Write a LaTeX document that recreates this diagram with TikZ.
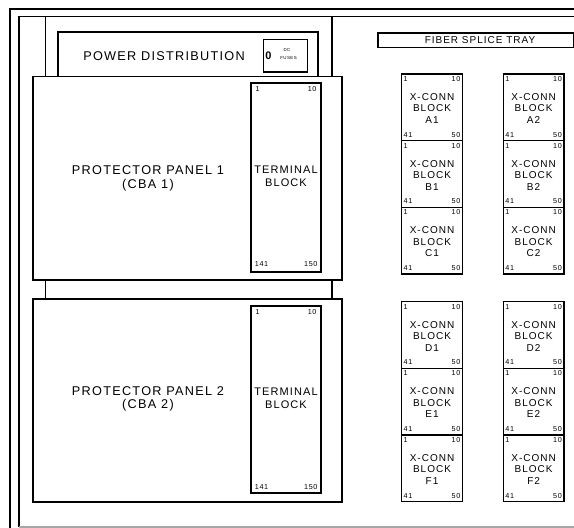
\documentclass[tikz,border=0pt]{standalone}
\usepackage{fontspec}
\setmainfont{Liberation Sans}[LetterSpace=10]
\begin{document}
\begin{tikzpicture}[x=1pt,y=-1pt,
  frame/.style={line width=1.2pt, draw=black},
  box/.style={draw=black, line width=1.2pt, anchor=north west, inner sep=0pt, outer sep=0pt, fill=white},
  blk/.style={box, line width=1.5pt},
  txt/.style={inner sep=0pt, outer sep=0pt, text=black},
  big/.style={txt, align=center, font=\fontsize{12.7}{13.5}\selectfont},
  mid/.style={txt, align=center, font=\fontsize{11}{12.7}\selectfont},
  xtxt/.style={txt, align=center, font=\fontsize{10}{11.5}\selectfont},
  num/.style={txt, font=\fontsize{7.2}{8}\selectfont},
  tiny/.style={txt, font=\fontsize{4.4}{5}\selectfont}
]
\useasboundingbox (0,0) rectangle (574,528);
% cabinet frame
\coordinate (fo1) at (574,9);
\coordinate (fo2) at (10,9);
\coordinate (fo3) at (10,528);
\coordinate (fi1) at (574,16.5);
\coordinate (fi2) at (19,16.5);
\coordinate (fi3) at (19,527);
\coordinate (fi4) at (574,527);
\draw[frame] (fo1) -- (fo2) -- (fo3);
\draw[frame] (fi1) -- (fi2) -- (fi3);
\draw[line width=1.2pt, draw=black!35] (fi3) -- (fi4);
% rails
\draw[frame] (45.7,16.5) -- (45.7,76.5);
\draw[frame] (332,16.5) -- (332,76.5);
\draw[frame] (45.7,280) -- (45.7,299);
\draw[frame] (332,280) -- (332,299);

% power distribution
\node[box, minimum width=260pt, minimum height=44.5pt] (pd) at (58,32) {};
\node[big] (pdt) at (164,56) {POWER DISTRIBUTION};
\node[box, minimum width=44pt, minimum height=32.7pt] (fz) at (263.3,39.3) {};
\node[txt, font=\fontsize{11}{12}\selectfont\bfseries] (fz0) at (268.5,56) {0};
\node[tiny] (fzdc) at (287,50) {DC};
\node[tiny] (fzf) at (288.5,58) {FUSES};

% protector panel 1
\node[box, minimum width=309pt, minimum height=203.5pt] (pp1) at (33,76.5) {};
\node[big] (pp1t) at (148,178.5) {PROTECTOR PANEL 1\\(CBA 1)};
\node[box, minimum width=70pt, minimum height=189pt] (tb1) at (251,83) {};
\node[mid] (tb1t) at (286,176.5) {TERMINAL\\BLOCK};
\node[num, anchor=west] (tb1a) at ([xshift=4.5pt,yshift=-6.3pt]tb1.north west) {1};
\node[num, anchor=east] (tb1b) at ([xshift=-4.5pt,yshift=-6.3pt]tb1.north east) {10};
\node[num, anchor=west] (tb1c) at ([xshift=3.8pt,yshift=8pt]tb1.south west) {141};
\node[num, anchor=east] (tb1d) at ([xshift=-3.5pt,yshift=8pt]tb1.south east) {150};

% protector panel 2
\node[box, minimum width=309pt, minimum height=203pt] (pp2) at (33,299) {};
\node[big] (pp2t) at (148,399) {PROTECTOR PANEL 2\\(CBA 2)};
\node[box, minimum width=70pt, minimum height=187pt] (tb2) at (251,306) {};
\node[mid] (tb2t) at (286,398.5) {TERMINAL\\BLOCK};
\node[num, anchor=west] (tb2a) at ([xshift=4.5pt,yshift=-6pt]tb2.north west) {1};
\node[num, anchor=east] (tb2b) at ([xshift=-4.5pt,yshift=-6pt]tb2.north east) {10};
\node[num, anchor=west] (tb2c) at ([xshift=3.8pt,yshift=6pt]tb2.south west) {141};
\node[num, anchor=east] (tb2d) at ([xshift=-3.5pt,yshift=6pt]tb2.south east) {150};

% fiber splice tray
\node[box, minimum width=196pt, minimum height=14.7pt] (fst) at (378,33) {};
\node[xtxt] (fstt) at (480,40.5) {FIBER SPLICE TRAY};

% x-conn blocks
\foreach \c/\x in {1/401.7,2/503.3}{
  \foreach \r/\y in {A/74,B/140.7,C/207.4,D/301.7,E/368.3,F/435}{
    \node[blk, minimum width=60.6pt, minimum height=66.7pt] (x\r\c) at (\x,\y) {};
    \node[xtxt] (x\r\c t) at ([yshift=-1pt]x\r\c.center) {X-CONN\\BLOCK\\\r\c};
    \node[num, anchor=west] (x\r\c a) at ([xshift=2pt,yshift=-5pt]x\r\c.north west) {1};
    \node[num, anchor=east] (x\r\c b) at ([xshift=-2pt,yshift=-5pt]x\r\c.north east) {10};
    \node[num, anchor=west] (x\r\c c) at ([xshift=2pt,yshift=6pt]x\r\c.south west) {41};
    \node[num, anchor=east] (x\r\c d) at ([xshift=-2pt,yshift=6pt]x\r\c.south east) {50};
  }
}
\end{tikzpicture}
\end{document}
